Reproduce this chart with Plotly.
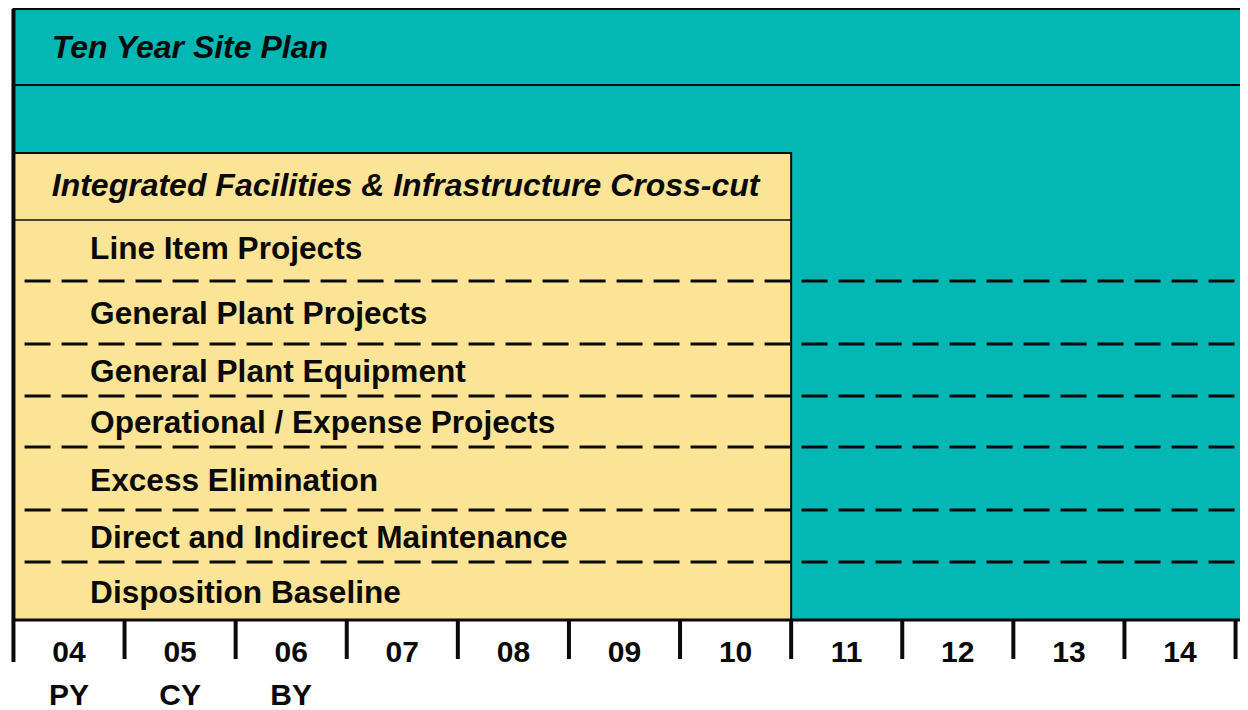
"""
Ten Year Site Plan / Integrated Facilities & Infrastructure cross-cut timeline.
"""

import plotly.graph_objects as go

YEARS = [4, 5, 6, 7, 8, 9, 10, 11, 12, 13, 14]
YEAR_LABELS = ["04", "05", "06", "07", "08", "09", "10", "11", "12", "13", "14"]
YEAR_TAGS = ["PY", "CY", "BY"]
CROSSCUT_LAST_YEAR = 10

PLAN_TITLE = "Ten Year Site Plan"
CROSSCUT_TITLE = "Integrated Facilities & Infrastructure Cross-cut"
ROWS = [
    "Line Item Projects",
    "General Plant Projects",
    "General Plant Equipment",
    "Operational / Expense Projects",
    "Excess Elimination",
    "Direct and Indirect Maintenance",
    "Disposition Baseline",
]

TEAL = "#03B7B5"
YELLOW = "#FCE496"
INK = "#0A0A0A"
FONT = "Liberation Sans"

# vertical layout in page pixels (y axis runs top-down)
Y_TOP = 9
Y_TITLE_LINE = 85
Y_BOX_TOP = 153
Y_HEAD_LINE = 220
Y_BOTTOM = 620
Y_TICK_END = 662
Y_YEAR = 654
Y_TAG = 697
ROW_CENTERS = [251, 316, 374, 425, 483, 540, 595]
DIVIDERS = [281, 344, 396, 447, 510, 562]
TITLE_CENTERS = [50, 188]

PAGE_OFFSET = 8      # the page body margin shifts the figure by 8px
PX_PER_YEAR = 111.1
X_FIRST_YEAR_PX = 69

x_left = YEARS[0] - 0.5
x_right = YEARS[-1] + 0.5
x_split = CROSSCUT_LAST_YEAR + 0.5
x_text = YEARS[0] + 0.19

fig = go.Figure()

# teal plan block
fig.add_shape(type="rect", x0=x_left, x1=x_right + 0.3, y0=Y_TOP, y1=Y_BOTTOM,
              fillcolor=TEAL, line=dict(color=INK, width=2), layer="below")
fig.add_shape(type="line", x0=x_left, x1=x_right + 0.3, y0=Y_TITLE_LINE, y1=Y_TITLE_LINE,
              line=dict(color=INK, width=2))

# yellow cross-cut block
fig.add_shape(type="rect", x0=x_left, x1=x_split, y0=Y_BOX_TOP, y1=Y_BOTTOM,
              fillcolor=YELLOW, line=dict(color=INK, width=2), layer="below")
fig.add_shape(type="line", x0=x_left, x1=x_split, y0=Y_HEAD_LINE, y1=Y_HEAD_LINE,
              line=dict(color=INK, width=1.5))

# dashed row dividers
for y in DIVIDERS:
    fig.add_shape(type="line", x0=x_left + 0.1, x1=x_right + 0.1, y0=y, y1=y,
                  line=dict(color=INK, width=3, dash="26px,11px"))

# time axis: baseline and year-boundary ticks
fig.add_shape(type="line", x0=x_left, x1=x_right + 0.3, y0=Y_BOTTOM, y1=Y_BOTTOM,
              line=dict(color=INK, width=3))
fig.add_shape(type="line", x0=x_left, x1=x_left, y0=Y_TOP, y1=Y_TICK_END,
              line=dict(color=INK, width=4))
tick_x, tick_y = [], []
for b in [y - 0.5 for y in YEARS[1:]] + [x_right]:
    tick_x += [b, b, None]
    tick_y += [Y_BOTTOM, Y_TICK_END - 3, None]
fig.add_trace(go.Scatter(x=tick_x, y=tick_y, mode="lines",
                         line=dict(color=INK, width=4), hoverinfo="skip"))

# year labels
fig.add_trace(go.Scatter(
    x=YEARS, y=[Y_YEAR] * len(YEARS), mode="text",
    text=[f"<b>{t}</b>" for t in YEAR_LABELS],
    textfont=dict(family=FONT, size=30, color=INK), hoverinfo="skip",
))
fig.add_trace(go.Scatter(
    x=YEARS[:len(YEAR_TAGS)], y=[Y_TAG] * len(YEAR_TAGS), mode="text",
    text=[f"<b>{t}</b>" for t in YEAR_TAGS],
    textfont=dict(family=FONT, size=30, color=INK), hoverinfo="skip",
))

# block titles
fig.add_trace(go.Scatter(
    x=[YEARS[0] - 0.155] * 2, y=TITLE_CENTERS, mode="text",
    text=[f"<b><i>{PLAN_TITLE}</i></b>", f"<b><i>{CROSSCUT_TITLE}</i></b>"],
    textposition="middle right",
    textfont=dict(family=FONT, size=32, color=INK), hoverinfo="skip",
))

# cross-cut rows
fig.add_trace(go.Scatter(
    x=[x_text] * len(ROWS), y=ROW_CENTERS, mode="text",
    text=[f"<b>{r}</b>" for r in ROWS],
    textposition="middle right",
    textfont=dict(family=FONT, size=31.6, color=INK), hoverinfo="skip",
))

fig.update_layout(
    width=1248 - PAGE_OFFSET, height=710 - PAGE_OFFSET,
    margin=dict(l=0, r=0, t=0, b=0),
    paper_bgcolor="white", plot_bgcolor="white",
    showlegend=False,
    xaxis=dict(range=[YEARS[0] + (PAGE_OFFSET - X_FIRST_YEAR_PX) / PX_PER_YEAR,
                      YEARS[0] + (1248 - X_FIRST_YEAR_PX) / PX_PER_YEAR],
               visible=False, fixedrange=True),
    yaxis=dict(range=[710, PAGE_OFFSET], visible=False, fixedrange=True),
)

fig.write_html("out.html")
